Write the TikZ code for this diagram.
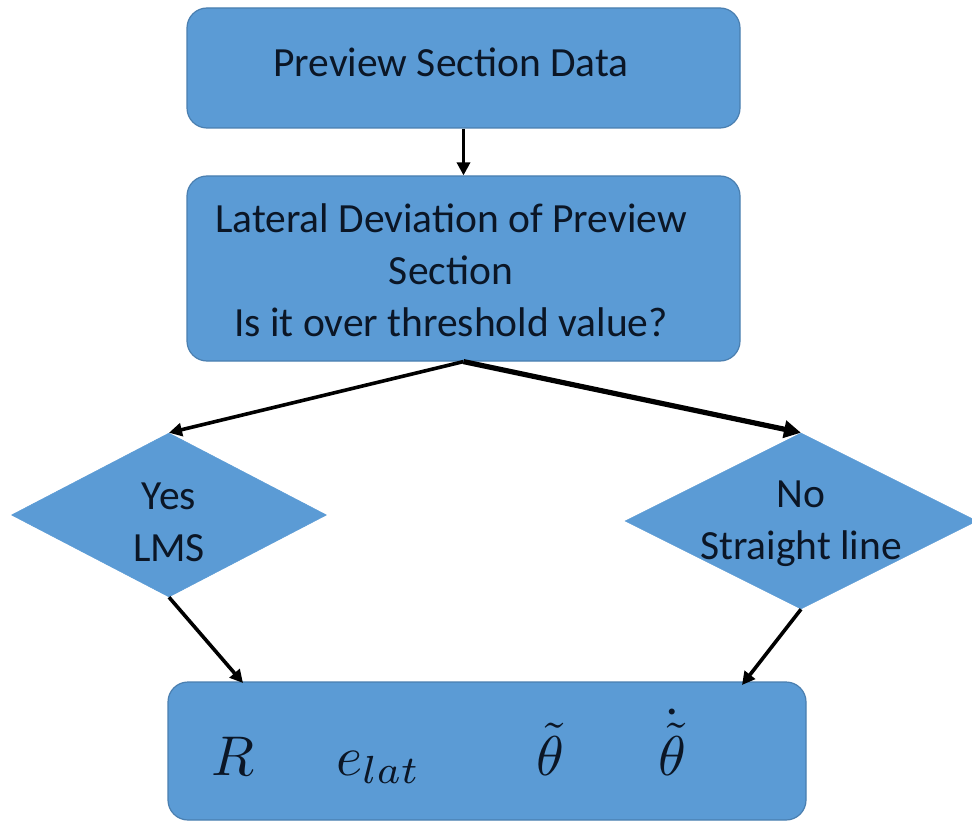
\documentclass[tikz,border=0pt]{standalone}
\usepackage{fontspec}
\setmainfont{Carlito}
\usetikzlibrary{shapes.geometric,arrows.meta,calc}
\definecolor{boxfill}{HTML}{5B9BD5}
\definecolor{boxline}{HTML}{4A7FB0}
\definecolor{txtcol}{HTML}{0B1626}
\begin{document}
\begin{tikzpicture}[x=1pt,y=-1pt,
  box/.style={draw=boxline,fill=boxfill,line width=1.2pt,rounded corners=20pt,inner sep=0pt},
  dia/.style={diamond,draw=boxfill,fill=boxfill,line width=0.5pt,inner sep=0pt},
  txt/.style={text=txtcol,font=\fontsize{41.5}{52}\selectfont,align=center,inner sep=0pt},
  mth/.style={text=txtcol,font=\normalsize,scale=5.6,inner sep=0pt,anchor=base},
  arr/.style={-{Triangle[length=13pt,width=13pt]},line width=3.6pt,black},
  thickarr/.style={-{Triangle[length=17pt,width=17pt]},line width=5.2pt,black}
]
\useasboundingbox[fill=white] (0,0) rectangle (972,821);
% boxes
\node[box,minimum width=553pt,minimum height=120pt] (b1) at (463.5,68) {};
\node[txt] (t1) at (451,62) {Preview Section Data};
\node[box,minimum width=553pt,minimum height=185pt] (b2) at (463.5,268.5) {};
\node[txt] (t2) at (451,270) {Lateral Deviation of Preview\\Section\\Is it over threshold value?};
% diamonds
\node[dia,minimum width=315pt,minimum height=164pt] (yes) at (169,515) {};
\node[txt] (tyes) at (169,522) {Yes\\LMS};
\node[dia,minimum width=352pt,minimum height=176pt] (no) at (801,521) {};
\node[txt] (tno) at (801,524) {No\\Straight line};
% bottom box
\node[box,minimum width=638pt,minimum height=138pt] (bot) at (487,751) {};
\node[mth] (mR) at (233,775) {$R$};
\node[mth,anchor=base west] (me) at (335,775) {$e_{lat}$};
\node[mth] (mt) at (550,775) {$\tilde{\theta}$};
\node[mth] (mtd) at (672,775) {$\dot{\tilde{\theta}}$};
% connectors
\draw[arr] (b1.south) -- (b2.north);
\draw[arr] (b2.south) -- (yes.north);
\draw[thickarr] (b2.south) -- (no.north);
\coordinate (inL) at (243,683);
\coordinate (inR) at (742,685);
\draw[arr] (yes.south) -- (inL);
\draw[arr] (no.south) -- (inR);
\end{tikzpicture}
\end{document}
